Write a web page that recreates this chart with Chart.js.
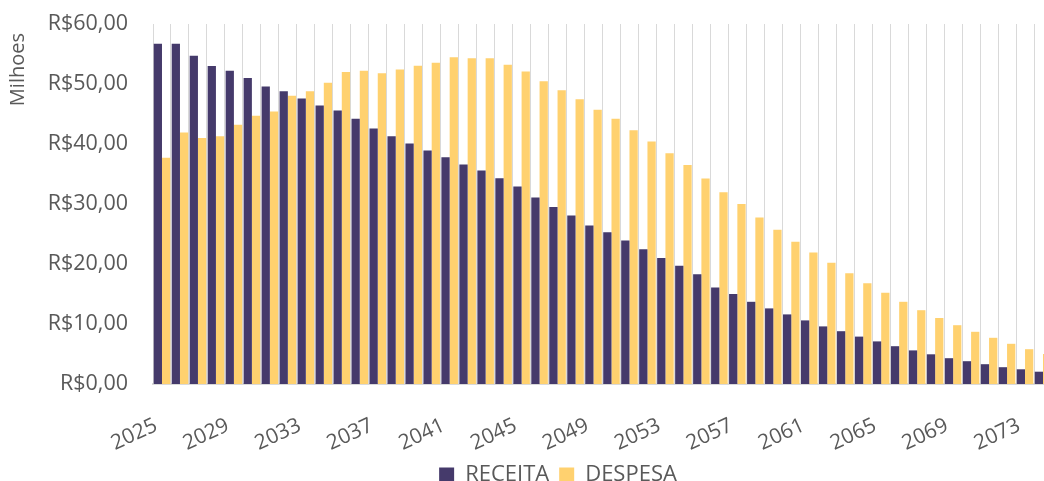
<!DOCTYPE html>
<html>
<head>
<meta charset="utf-8">
<script src="https://cdn.jsdelivr.net/npm/chart.js@4.4.1/dist/chart.umd.min.js"></script>
<style>
  html, body { margin: 0; padding: 0; background: #fff; }
  #clip { position: relative; width: 1044px; height: 481px; overflow: hidden; }
  #chart { display: block; }
</style>
</head>
<body>
<div id="clip"><canvas id="chart" width="1052" height="496"></canvas></div>
<script>
// Years shown on the x axis (chart is cropped on the right after 2074)
const years = [
  "2025", "2026", "2027", "2028", "2029", "2030", "2031", "2032", "2033", "2034",
  "2035", "2036", "2037", "2038", "2039", "2040", "2041", "2042", "2043", "2044",
  "2045", "2046", "2047", "2048", "2049", "2050", "2051", "2052", "2053", "2054",
  "2055", "2056", "2057", "2058", "2059", "2060", "2061", "2062", "2063", "2064",
  "2065", "2066", "2067", "2068", "2069", "2070", "2071", "2072", "2073", "2074",
];

// Values in millions of R$
const receita = [
  56.7, 56.7, 54.7, 53.0, 52.2, 51.0, 49.6, 48.8, 47.6, 46.4,
  45.6, 44.2, 42.6, 41.3, 40.1, 38.9, 37.8, 36.6, 35.6, 34.3,
  32.9, 31.1, 29.5, 28.1, 26.4, 25.3, 23.9, 22.45, 21.0, 19.7,
  18.3, 16.1, 15.0, 13.7, 12.6, 11.6, 10.6, 9.6, 8.8, 7.9,
  7.1, 6.3, 5.6, 4.95, 4.3, 3.8, 3.3, 2.8, 2.45, 2.05,
];

const despesa = [
  37.7, 41.9, 41.0, 41.3, 43.2, 44.7, 45.4, 48.05, 48.8, 50.2,
  52.0, 52.2, 51.8, 52.4, 53.05, 53.55, 54.45, 54.3, 54.3, 53.2,
  52.1, 50.45, 48.95, 47.45, 45.7, 44.2, 42.3, 40.4, 38.45, 36.5,
  34.25, 31.95, 30.0, 27.75, 25.7, 23.7, 21.9, 20.2, 18.45, 16.8,
  15.2, 13.7, 12.3, 11.0, 9.8, 8.7, 7.7, 6.7, 5.8, 5.0,
];

const yTicks = [0, 10, 20, 30, 40, 50, 60];

const textGray = "#595959";
const fontFamily = "'Open Sans', 'Noto Sans', sans-serif";

// move the legend to where the original puts it
const legendPlacer = {
  id: "legendPlacer",
  afterLayout(chart) {
    const lg = chart.legend;
    if (!lg) return;
    const dx = 32;
    lg.left += dx;
    lg.right += dx;
    const h = lg.height;
    lg.top = 454;
    lg.bottom = lg.top + h;
  },
};

const ctx = document.getElementById("chart").getContext("2d");
new Chart(ctx, {
  type: "bar",
  data: {
    labels: years,
    datasets: [
      {
        label: "RECEITA",
        data: receita,
        backgroundColor: "#453A6B",
        borderWidth: 0,
      },
      {
        label: "DESPESA",
        data: despesa,
        backgroundColor: "#FFD16F",
        borderWidth: 0,
      },
    ],
  },
  options: {
    responsive: false,
    animation: false,
    layout: { padding: { top: 24, left: 0, right: 0, bottom: 0 } },
    datasets: {
      bar: { categoryPercentage: 0.92, barPercentage: 1 },
    },
    plugins: {
      tooltip: { enabled: false },
      legend: {
        position: "bottom",
        labels: {
          color: textGray,
          font: { family: fontFamily, size: 22 },
          boxWidth: 15,
          boxHeight: 15,
          padding: 10,
        },
      },
    },
    scales: {
      x: {
        grid: {
          color: "#d9d9d9",
          lineWidth: 1,
          offset: true,
          drawTicks: false,
        },
        border: { color: "#d9d9d9", width: 2 },
        ticks: {
          autoSkip: false,
          minRotation: 25,
          maxRotation: 25,
          padding: 29,
          labelOffset: -6,
          color: textGray,
          font: { family: fontFamily, size: 21 },
          callback: (v, i) => (i % 4 === 0 ? years[i] : ""),
        },
        afterFit: (s) => {
          s.height = 70;
          s.paddingLeft = 0;
          s.paddingRight = 0;
        },
      },
      y: {
        min: 0,
        max: 60,
        grid: { display: false, drawTicks: false },
        border: { display: false },
        afterBuildTicks: (s) => {
          s.ticks = yTicks.map((v) => ({ value: v }));
        },
        ticks: {
          padding: 25,
          color: textGray,
          font: { family: fontFamily, size: 21.5 },
          callback: (v) => "R$" + v + ",00",
        },
        title: {
          display: true,
          text: "Milhoes",
          align: "end",
          color: textGray,
          font: { family: fontFamily, size: 20 },
          padding: { top: 6, bottom: 0 },
        },
        afterFit: (s) => {
          s.width = 153;
          s.paddingTop = 0;
          s.paddingBottom = 0;
          // title sits a bit below the top of the axis in the original
          if (!s._titleShifted) {
            const drawTitle = s.drawTitle;
            s.drawTitle = function () {
              this.ctx.save();
              this.ctx.translate(0, 9);
              drawTitle.call(this);
              this.ctx.restore();
            };
            s._titleShifted = true;
          }
        },
      },
    },
  },
  plugins: [legendPlacer],
});
</script>
</body>
</html>
